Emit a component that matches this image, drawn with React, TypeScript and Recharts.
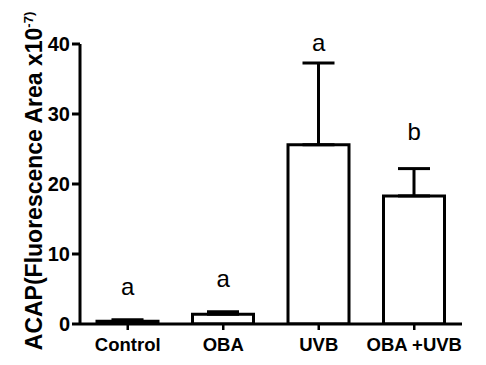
import React from "react";
import {
  ComposedChart,
  Bar,
  Line,
  XAxis,
  YAxis,
  ErrorBar,
  LabelList,
} from "recharts";

const groups = ["Control", "OBA", "UVB", "OBA +UVB"];
const meanValues = [0.4, 1.4, 25.6, 18.3];
const errorValues = [0.2, 0.35, 11.7, 3.9];
const letters = ["a", "a", "a", "b"];
const letterLevels = [4.1, 5.3, 39.0, 26.3];
const yTicks = [0, 10, 20, 30, 40];

const data = groups.map((g, i) => ({
  group: g,
  mean: meanValues[i],
  err: [0, errorValues[i]],
  letterLevel: letterLevels[i],
  letter: letters[i],
}));

const FONT = "'Liberation Sans', Arial, sans-serif";

const YLabel = (props: any) => {
  const vb = props.viewBox || {};
  const cy = vb.y + vb.height / 2 - 3;
  const x = 42;
  return (
    <text
      x={x}
      y={cy}
      transform={`rotate(-90, ${x}, ${cy})`}
      textAnchor="middle"
      fontFamily={FONT}
      fontWeight="bold"
      fontSize={23}
      fill="#000"
    >
      ACAP(Fluorescence Area x10
      <tspan fontSize={13} dy={-9}>
        -7)
      </tspan>
    </text>
  );
};

const LetterLabel = (props: any) => {
  const { x, y, value } = props;
  return (
    <text
      x={x}
      y={y}
      textAnchor="middle"
      fontFamily={FONT}
      fontSize={24}
      fill="#000"
    >
      {value}
    </text>
  );
};

export default function App() {
  return (
    <div style={{ position: "absolute", left: 0, top: 0, background: "#fff" }}>
      <ComposedChart
        width={486}
        height={365}
        data={data}
        margin={{ top: 44, right: 24, bottom: 0, left: 0 }}
      >
        <XAxis
          dataKey="group"
          height={41}
          axisLine={{ stroke: "#000", strokeWidth: 3 }}
          tickLine={{ stroke: "#000", strokeWidth: 2.5 }}
          tickSize={6}
          tickMargin={8}
          interval={0}
          tick={{
            fill: "#000",
            fontSize: 18.5,
            fontWeight: "bold",
            fontFamily: FONT,
          }}
        />
        <YAxis
          width={80}
          domain={[0, 40]}
          ticks={yTicks}
          allowDataOverflow
          axisLine={{ stroke: "#000", strokeWidth: 3 }}
          tickLine={{ stroke: "#000", strokeWidth: 3 }}
          tickSize={8}
          tickMargin={2}
          tick={{
            fill: "#000",
            fontSize: 20,
            fontWeight: "bold",
            fontFamily: FONT,
          }}
          label={<YLabel />}
        />
        <Bar
          dataKey="mean"
          fill="#fff"
          stroke="#000"
          strokeWidth={3}
          barSize={61}
          isAnimationActive={false}
        >
          <ErrorBar
            dataKey="err"
            direction="y"
            width={16}
            stroke="#000"
            strokeWidth={3}
            isAnimationActive={false}
          />
        </Bar>
        <Line
          dataKey="letterLevel"
          stroke="none"
          dot={false}
          activeDot={false}
          isAnimationActive={false}
        >
          <LabelList dataKey="letter" content={<LetterLabel />} />
        </Line>
      </ComposedChart>
    </div>
  );
}
